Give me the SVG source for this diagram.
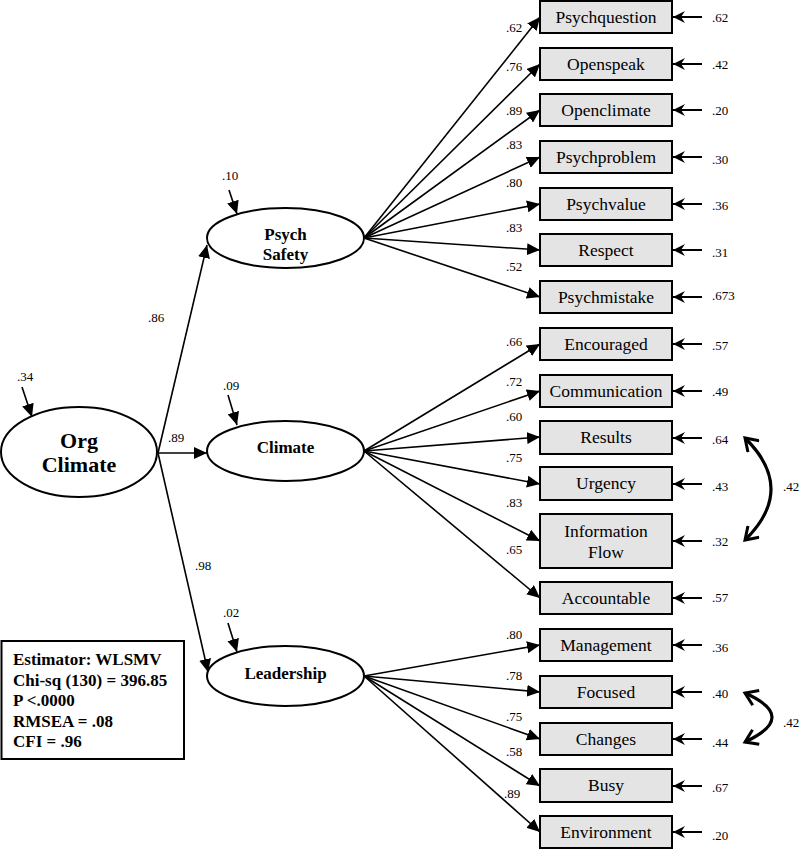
<svg xmlns="http://www.w3.org/2000/svg" width="800" height="850" viewBox="0 0 800 850">
<style>
.bx{fill:#e4e4e4;stroke:#000;stroke-width:2}
.el{fill:#fff;stroke:#000;stroke-width:2}
.ln{stroke:#000;stroke-width:1.6;fill:none;marker-end:url(#ah)}
.er{stroke:#000;stroke-width:2;fill:none;marker-end:url(#eh)}
.cv{stroke:#000;stroke-width:3.2;fill:none;marker-start:url(#ch);marker-end:url(#ch)}
.t{font-family:"Liberation Serif",serif;font-size:17.5px;text-anchor:middle}
.b{font-family:"Liberation Serif",serif;font-size:17px;font-weight:bold;text-anchor:middle}
.n{font-family:"Liberation Serif",serif;font-size:13px}
.f{font-family:"Liberation Serif",serif;font-size:17px;font-weight:bold}
</style>
<defs>
<marker id="ah" markerUnits="userSpaceOnUse" markerWidth="14" markerHeight="12" refX="13" refY="6" orient="auto"><path d="M0,0 L13,6 L0,12 Z" fill="#000"/></marker>
<marker id="eh" markerUnits="userSpaceOnUse" markerWidth="14" markerHeight="14" refX="12" refY="7" orient="auto"><path d="M0,1 L12,7 L0,13 L4,7 Z" fill="#000"/></marker>
<marker id="ch" markerUnits="userSpaceOnUse" markerWidth="18" markerHeight="18" refX="14" refY="9" orient="auto-start-reverse"><path d="M2,1 L14,9 L2,17" stroke="#000" stroke-width="3" fill="none"/></marker>
</defs>
<g id="connectors">
<line class="ln" x1="158" y1="453" x2="207" y2="245"/>
<line class="ln" x1="158" y1="453" x2="207" y2="453"/>
<line class="ln" x1="158" y1="453" x2="208" y2="672"/>
<line class="ln" x1="22" y1="387" x2="32" y2="417"/>
<line class="ln" x1="229" y1="190" x2="237" y2="214"/>
<line class="ln" x1="228" y1="395" x2="237" y2="425"/>
<line class="ln" x1="228" y1="623" x2="237" y2="652"/>
<line class="ln" x1="364" y1="238" x2="540" y2="17"/>
<line class="ln" x1="364" y1="238" x2="540" y2="64"/>
<line class="ln" x1="364" y1="238" x2="540" y2="110"/>
<line class="ln" x1="364" y1="238" x2="540" y2="157"/>
<line class="ln" x1="364" y1="238" x2="540" y2="204"/>
<line class="ln" x1="364" y1="238" x2="540" y2="250"/>
<line class="ln" x1="364" y1="238" x2="540" y2="297"/>
<line class="ln" x1="364" y1="451" x2="540" y2="344"/>
<line class="ln" x1="364" y1="451" x2="540" y2="391"/>
<line class="ln" x1="364" y1="451" x2="540" y2="437"/>
<line class="ln" x1="364" y1="451" x2="540" y2="484"/>
<line class="ln" x1="364" y1="451" x2="540" y2="541"/>
<line class="ln" x1="364" y1="451" x2="540" y2="598"/>
<line class="ln" x1="364" y1="676" x2="540" y2="645"/>
<line class="ln" x1="364" y1="676" x2="540" y2="692"/>
<line class="ln" x1="364" y1="676" x2="540" y2="739"/>
<line class="ln" x1="364" y1="676" x2="540" y2="786"/>
<line class="ln" x1="364" y1="676" x2="540" y2="832"/>
<line class="er" x1="702" y1="17" x2="673" y2="17"/>
<line class="er" x1="702" y1="64" x2="673" y2="64"/>
<line class="er" x1="702" y1="110" x2="673" y2="110"/>
<line class="er" x1="702" y1="157" x2="673" y2="157"/>
<line class="er" x1="702" y1="204" x2="673" y2="204"/>
<line class="er" x1="702" y1="250" x2="673" y2="250"/>
<line class="er" x1="702" y1="297" x2="673" y2="297"/>
<line class="er" x1="702" y1="344" x2="673" y2="344"/>
<line class="er" x1="702" y1="391" x2="673" y2="391"/>
<line class="er" x1="702" y1="438" x2="673" y2="438"/>
<line class="er" x1="702" y1="484" x2="673" y2="484"/>
<line class="er" x1="702" y1="541" x2="673" y2="541"/>
<line class="er" x1="702" y1="598" x2="673" y2="598"/>
<line class="er" x1="702" y1="645" x2="673" y2="645"/>
<line class="er" x1="702" y1="692" x2="673" y2="692"/>
<line class="er" x1="702" y1="739" x2="673" y2="739"/>
<line class="er" x1="702" y1="786" x2="673" y2="786"/>
<line class="er" x1="702" y1="832" x2="673" y2="832"/>
<path class="cv" d="M745,438 Q797,489 745,540"/>
<path class="cv" d="M745,693 Q799,717 745,742"/>
</g>
<g id="labels">
<text class="n" x="506" y="32">.62</text>
<text class="n" x="506" y="71">.76</text>
<text class="n" x="506" y="115">.89</text>
<text class="n" x="506" y="149">.83</text>
<text class="n" x="506" y="187">.80</text>
<text class="n" x="506" y="232">.83</text>
<text class="n" x="506" y="271">.52</text>
<text class="n" x="506" y="346">.66</text>
<text class="n" x="506" y="386">.72</text>
<text class="n" x="506" y="421">.60</text>
<text class="n" x="506" y="462">.75</text>
<text class="n" x="506" y="507">.83</text>
<text class="n" x="506" y="554">.65</text>
<text class="n" x="506" y="639">.80</text>
<text class="n" x="506" y="680">.78</text>
<text class="n" x="506" y="721">.75</text>
<text class="n" x="506" y="756">.58</text>
<text class="n" x="504" y="798">.89</text>
<text class="n" x="712" y="22">.62</text>
<text class="n" x="712" y="69">.42</text>
<text class="n" x="712" y="115">.20</text>
<text class="n" x="712" y="164">.30</text>
<text class="n" x="712" y="210">.36</text>
<text class="n" x="712" y="257">.31</text>
<text class="n" x="712" y="300">.673</text>
<text class="n" x="712" y="350">.57</text>
<text class="n" x="712" y="396">.49</text>
<text class="n" x="712" y="444">.64</text>
<text class="n" x="712" y="491">.43</text>
<text class="n" x="712" y="546">.32</text>
<text class="n" x="712" y="602">.57</text>
<text class="n" x="712" y="652">.36</text>
<text class="n" x="712" y="698">.40</text>
<text class="n" x="712" y="747">.44</text>
<text class="n" x="712" y="792">.67</text>
<text class="n" x="712" y="840">.20</text>
<text class="n" x="783" y="491">.42</text>
<text class="n" x="783" y="727">.42</text>
<text class="n" x="148" y="322">.86</text>
<text class="n" x="168" y="442">.89</text>
<text class="n" x="195" y="570">.98</text>
<text class="n" x="17" y="381">.34</text>
<text class="n" x="222" y="180">.10</text>
<text class="n" x="223" y="390">.09</text>
<text class="n" x="223" y="617">.02</text>
</g>
<g id="org-climate"><ellipse class="el" cx="79" cy="452" rx="78" ry="45"/><text class="b" x="79" y="448" style="font-size:22px">Org</text><text class="b" x="79" y="472" style="font-size:22px">Climate</text></g>
<g id="psych-safety"><ellipse class="el" cx="285.5" cy="238" rx="78.5" ry="30"/><text class="b" x="285.5" y="240">Psych</text><text class="b" x="285.5" y="260">Safety</text></g>
<g id="climate"><ellipse class="el" cx="285.5" cy="451" rx="78.5" ry="30"/><text class="b" x="285.5" y="453">Climate</text></g>
<g id="leadership"><ellipse class="el" cx="285.5" cy="676" rx="78.5" ry="30"/><text class="b" x="285.5" y="679">Leadership</text></g>
<g id="psychquestion"><rect class="bx" x="540" y="1" width="132" height="32"/><text class="t" x="606" y="23">Psychquestion</text></g>
<g id="openspeak"><rect class="bx" x="540" y="48" width="132" height="32"/><text class="t" x="606" y="70">Openspeak</text></g>
<g id="openclimate"><rect class="bx" x="540" y="94" width="132" height="32"/><text class="t" x="606" y="116">Openclimate</text></g>
<g id="psychproblem"><rect class="bx" x="540" y="141" width="132" height="32"/><text class="t" x="606" y="163">Psychproblem</text></g>
<g id="psychvalue"><rect class="bx" x="540" y="188" width="132" height="32"/><text class="t" x="606" y="210">Psychvalue</text></g>
<g id="respect"><rect class="bx" x="540" y="234" width="132" height="32"/><text class="t" x="606" y="256">Respect</text></g>
<g id="psychmistake"><rect class="bx" x="540" y="281" width="132" height="32"/><text class="t" x="606" y="303">Psychmistake</text></g>
<g id="encouraged"><rect class="bx" x="540" y="328" width="132" height="32"/><text class="t" x="606" y="350">Encouraged</text></g>
<g id="communication"><rect class="bx" x="540" y="375" width="132" height="32"/><text class="t" x="606" y="397">Communication</text></g>
<g id="results"><rect class="bx" x="540" y="421" width="132" height="33"/><text class="t" x="606" y="443">Results</text></g>
<g id="urgency"><rect class="bx" x="540" y="467" width="132" height="33"/><text class="t" x="606" y="489">Urgency</text></g>
<g id="information-flow"><rect class="bx" x="540" y="514" width="132" height="54"/><text class="t" x="606" y="537">Information</text><text class="t" x="606" y="558">Flow</text></g>
<g id="accountable"><rect class="bx" x="540" y="582" width="132" height="32"/><text class="t" x="606" y="604">Accountable</text></g>
<g id="management"><rect class="bx" x="540" y="629" width="132" height="32"/><text class="t" x="606" y="651">Management</text></g>
<g id="focused"><rect class="bx" x="540" y="676" width="132" height="32"/><text class="t" x="606" y="698">Focused</text></g>
<g id="changes"><rect class="bx" x="540" y="723" width="132" height="32"/><text class="t" x="606" y="745">Changes</text></g>
<g id="busy"><rect class="bx" x="540" y="769" width="132" height="33"/><text class="t" x="606" y="791">Busy</text></g>
<g id="environment"><rect class="bx" x="540" y="816" width="132" height="32"/><text class="t" x="606" y="838">Environment</text></g>
<g id="fit-box"><rect x="1.5" y="641" width="182.5" height="118" fill="#fff" stroke="#000" stroke-width="2"/>
<text class="f" x="13" y="665">Estimator: WLSMV</text>
<text class="f" x="13" y="686">Chi-sq (130) = 396.85</text>
<text class="f" x="13" y="706">P &lt;.0000</text>
<text class="f" x="13" y="727">RMSEA = .08</text>
<text class="f" x="13" y="747">CFI = .96</text></g>
</svg>
